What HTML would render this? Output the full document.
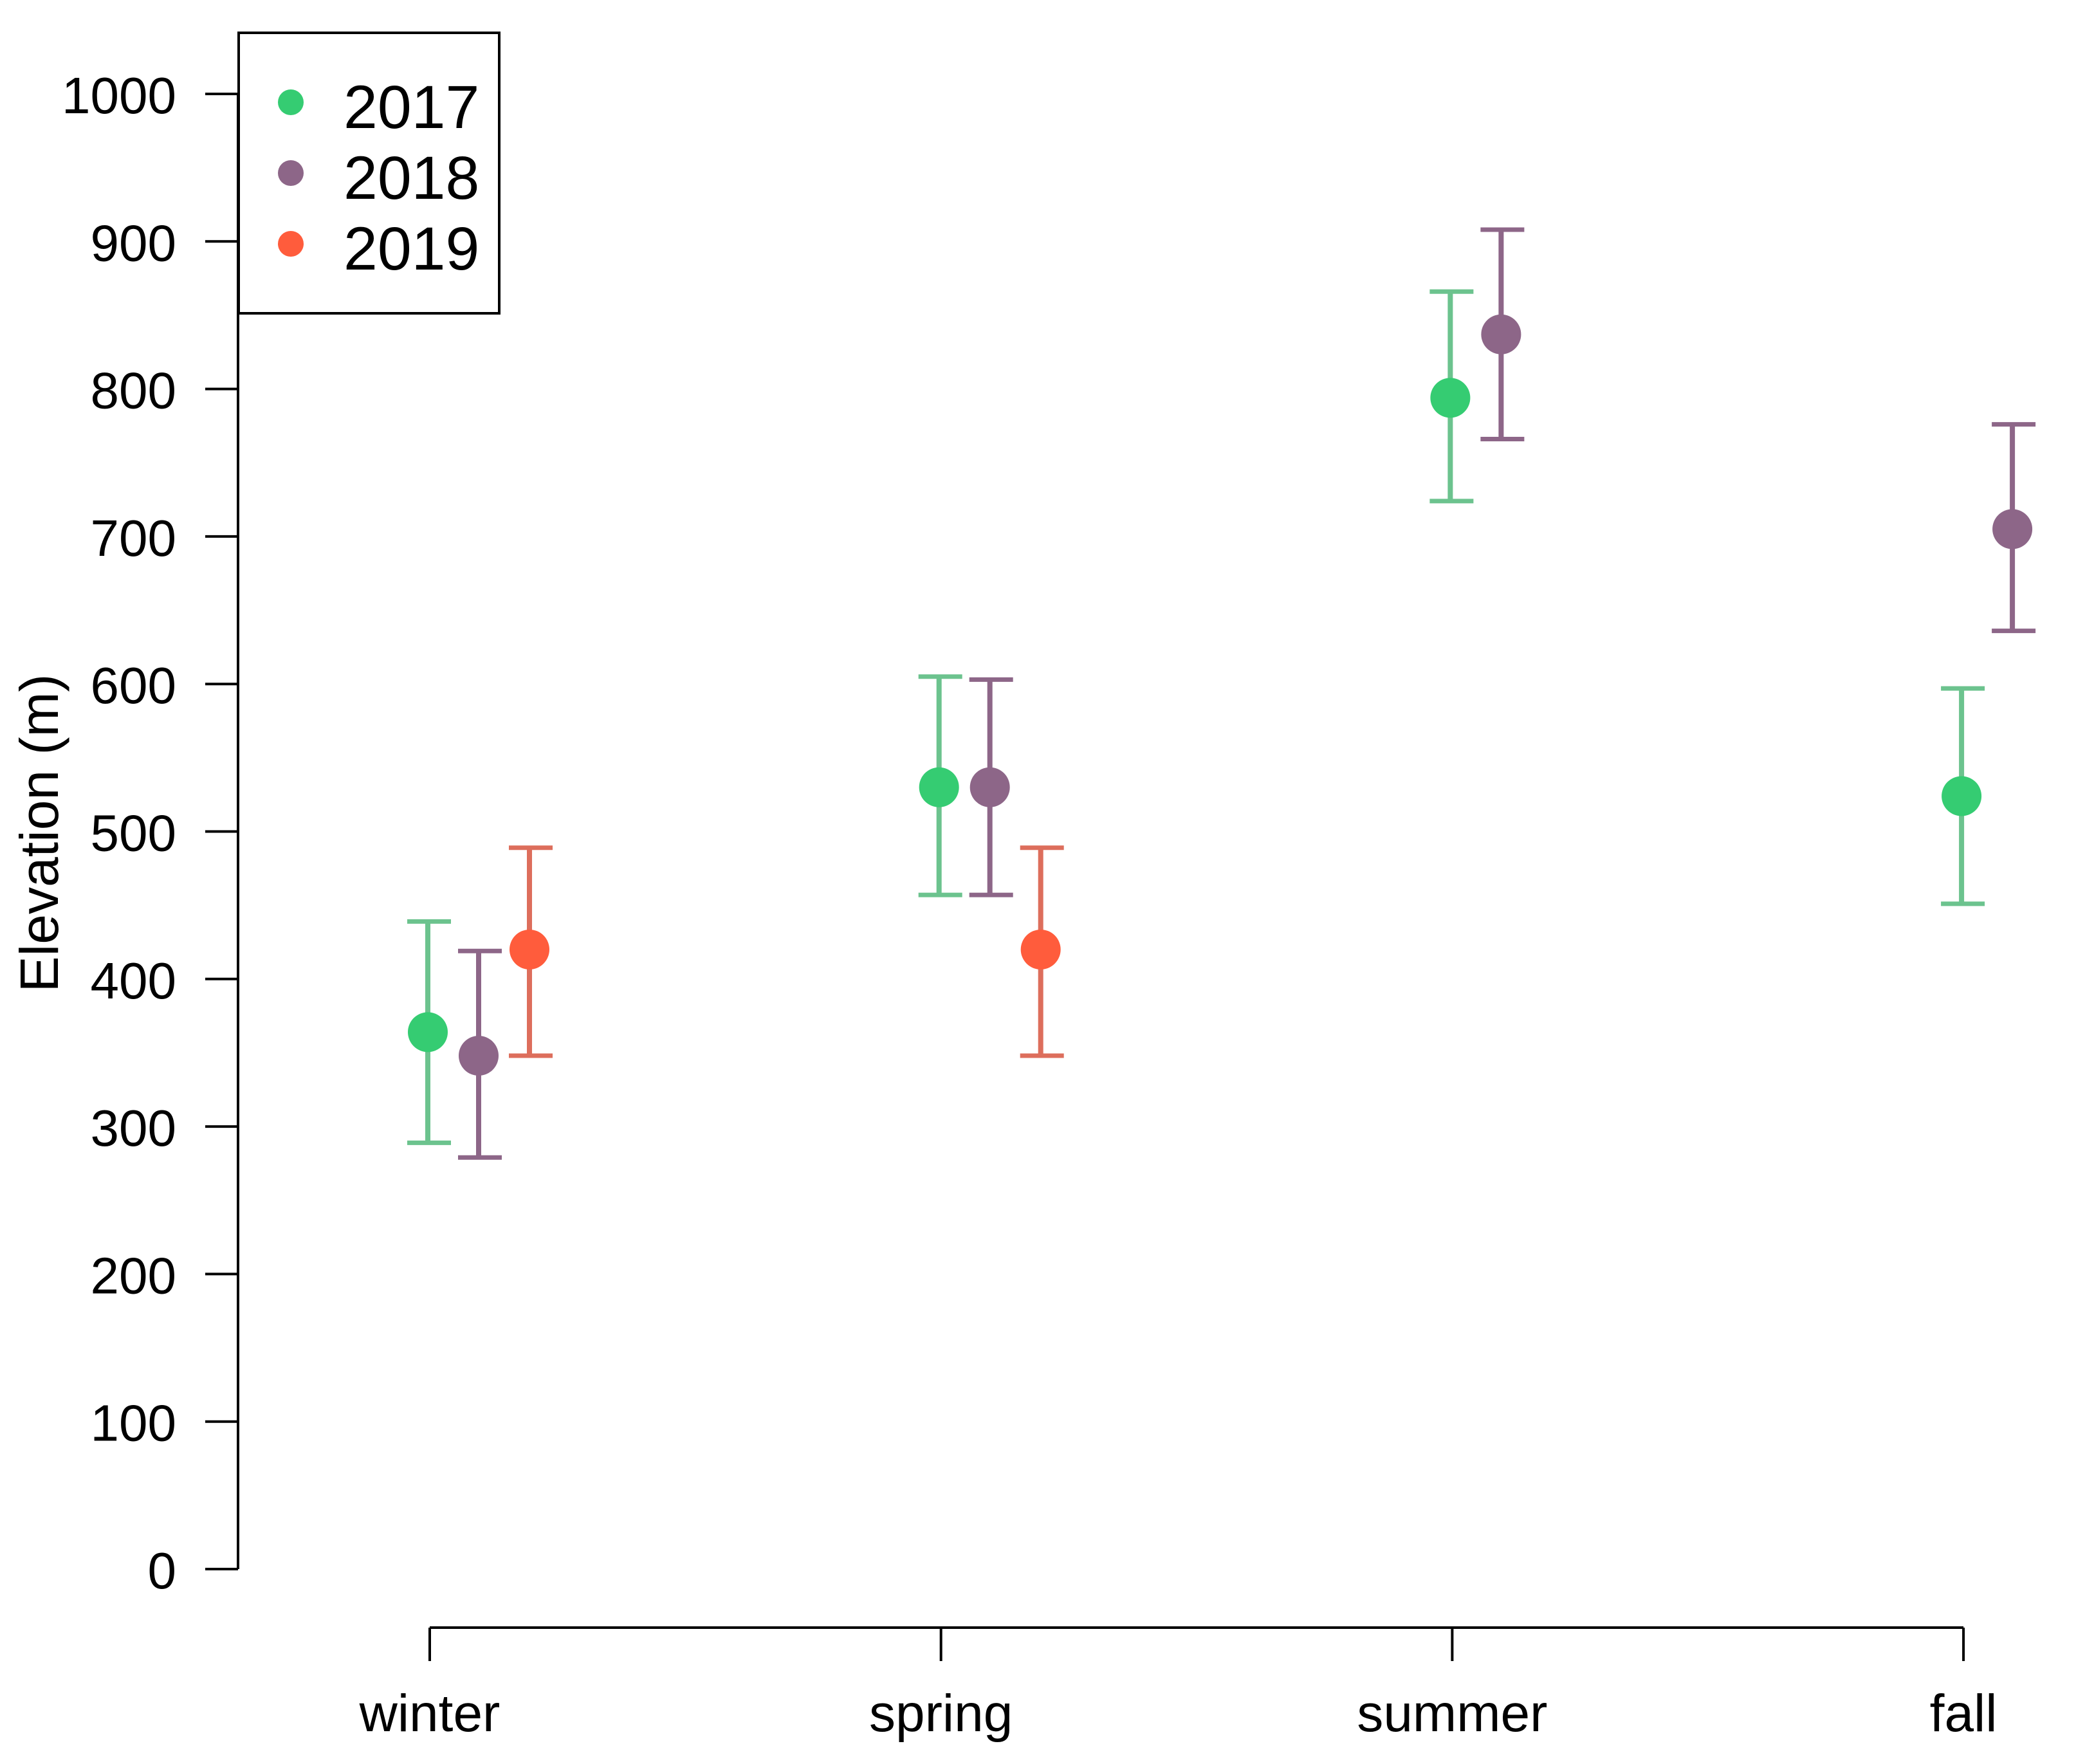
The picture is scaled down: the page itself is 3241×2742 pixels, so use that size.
<!DOCTYPE html>
<html><head><meta charset="utf-8"><style>
html,body{margin:0;padding:0;background:#fff;}
svg{display:block;font-family:"Liberation Sans",Arial,sans-serif;}
</style></head><body>
<svg id="chart" width="3241" height="2742" viewBox="0 0 3241 2742" xmlns="http://www.w3.org/2000/svg">
<rect width="3241" height="2742" fill="#fff"/>
<g id="axes"></g>
<g id="marks"></g>
<g id="legend"></g>
</svg>
<script>
const categories = ["winter","spring","summer","fall"];
const seriesNames = ["2017","2018","2019"];
const means2017 = [364, 530, 794, 524];
const upper2017 = [439, 605, 866, 597];
const lower2017 = [289, 457, 724, 451];
const means2018 = [348, 530, 837, 705];
const upper2018 = [419, 603, 908, 776];
const lower2018 = [279, 457, 766, 636];
const means2019 = [420, 420, null, null];
const upper2019 = [489, 489, null, null];
const lower2019 = [348, 348, null, null];
const yTicks = [0,100,200,300,400,500,600,700,800,900,1000];

const NS = "http://www.w3.org/2000/svg";
function el(tag, attrs, parent){const e=document.createElementNS(NS,tag);for(const k in attrs)e.setAttribute(k,attrs[k]);parent.appendChild(e);return e;}
function y(v){return 2439 - v*2.293;}
function xTick(i){return 668 + i*794.7;}
function xPt(i,s){return xTick(i) - 3 + s*79;}

const axes=document.getElementById('axes');
const marks=document.getElementById('marks');
const legend=document.getElementById('legend');

let yl=el('line',{x1:370,x2:370,y1:y(1000),y2:y(0),stroke:'#000','stroke-width':4},axes);


yTicks.forEach(t=>{
  let tk=el('line',{x1:319,x2:370,y1:y(t),y2:y(t),stroke:'#000','stroke-width':4},axes);
  
  
  let tx=el('text',{x:274,y:y(t)+30,'text-anchor':'end','font-size':80,fill:'#000'},axes);
  tx.textContent=t;
  
  
});
let yt=el('text',{x:0,y:0,'text-anchor':'middle','font-size':84,fill:'#000',transform:'translate(90,1295) rotate(-90)'},axes);
yt.textContent='Elevation (m)';



let xl=el('line',{x1:xTick(0),x2:xTick(3),y1:2530,y2:2530,stroke:'#000','stroke-width':4},axes);


categories.forEach((c,i)=>{
  let tk=el('line',{x1:xTick(i),x2:xTick(i),y1:2530,y2:2582,stroke:'#000','stroke-width':4},axes);
  
  
  let tx=el('text',{x:xTick(i),y:2691,'text-anchor':'middle','font-size':82,fill:'#000'},axes);
  tx.textContent=c;
  
  
});

const series=[
  {m:means2017,u:upper2017,l:lower2017,pt:'#35cc72',bar:'#6cc38e'},
  {m:means2018,u:upper2018,l:lower2018,pt:'#8d6688',bar:'#8d6688'},
  {m:means2019,u:upper2019,l:lower2019,pt:'#ff5c3c',bar:'#dd6e5c'}
];
series.forEach((s,si)=>{
  s.m.forEach((v,i)=>{
    if(v===null)return;
    const x=xPt(i,si);
    let g=el('g',{},marks);
    
    
    el('line',{x1:x,x2:x,y1:y(s.u[i]),y2:y(s.l[i]),stroke:s.bar,'stroke-width':8},g);
    el('line',{x1:x-32,x2:x+36,y1:y(s.u[i]),y2:y(s.u[i]),stroke:s.bar,'stroke-width':7},g);
    el('line',{x1:x-32,x2:x+36,y1:y(s.l[i]),y2:y(s.l[i]),stroke:s.bar,'stroke-width':7},g);
    el('circle',{cx:x,cy:y(v),r:31,fill:s.pt},g);
  });
});

let lb=el('rect',{x:371,y:51,width:405,height:436,fill:'#fff',stroke:'#000','stroke-width':4},legend);


seriesNames.forEach((n,i)=>{
  const cy=159+i*110;
  let g=el('g',{},legend);
  
  
  el('circle',{cx:452,cy:cy,r:20,fill:series[i].pt},g);
  let t=el('text',{x:534,y:cy+40,'font-size':95,fill:'#000'},g);
  t.textContent=n;
});
</script>
</body></html>
